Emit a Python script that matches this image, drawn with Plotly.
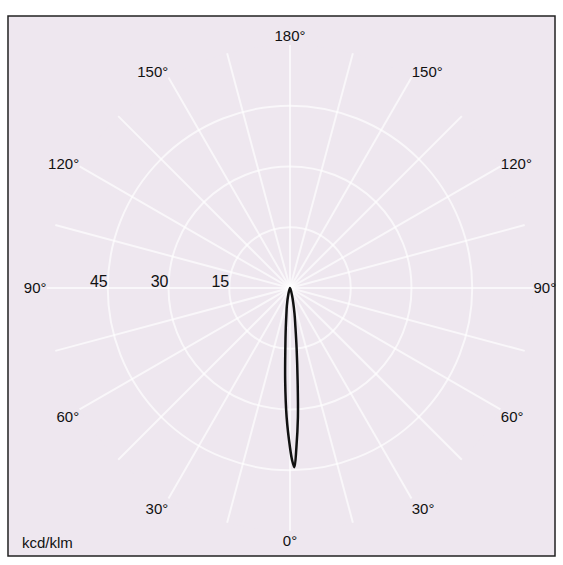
import plotly.graph_objects as go

# Luminous intensity distribution (cd/klm), gamma angle from nadir (deg)
gamma = [-30, -15, -10, -8, -6, -4.5, -3, -1.5, 0, 0.7, 1.4, 2.3, 3.5, 4.7, 6.3, 8, 10, 15, 30]
intensity = [0, 1.5, 4.5, 6.3, 10, 14.6, 22.8, 31.9, 39.4, 42.5, 44.3, 39.4, 32, 23, 14.8, 9.5, 6.4, 2, 0]

radial_ticks = [15, 30, 45, 60]
radial_text = ["15", "30", "45", ""]
angle_ticks = list(range(0, 360, 15))
angle_text = [(f"{a if a <= 180 else 360 - a}°" if a % 30 == 0 else "") for a in angle_ticks]
unit_label = "kcd/klm"

bg = "#eee7ef"
grid = "rgba(255,255,255,0.65)"
font_family = "Liberation Sans, Arial, sans-serif"

fig = go.Figure()
fig.add_trace(go.Scatterpolar(
    r=intensity, theta=gamma, mode="lines",
    line=dict(color="#111111", width=2.5, shape="spline"),
    showlegend=False, hoverinfo="skip"))

fig.update_layout(
    width=563, height=565,
    margin=dict(l=0, r=0, t=0, b=0),
    paper_bgcolor="white",
    font=dict(family=font_family, size=15, color="#111111"),
    polar=dict(
        domain=dict(x=[0.0835, 0.9467], y=[0.0602, 0.9204]),
        bgcolor=bg,
        radialaxis=dict(range=[0, 60], tickvals=radial_ticks, ticktext=radial_text,
                        showline=False, ticks="", gridcolor=grid, gridwidth=1.5,
                        angle=180, tickangle=180, side="clockwise",
                        tickfont=dict(size=16)),
        angularaxis=dict(rotation=-90, direction="counterclockwise",
                         tickvals=angle_ticks, ticktext=angle_text,
                         showline=False, ticks="", gridcolor=grid, gridwidth=1.5,
                         tickfont=dict(size=15)),
    ),
    shapes=[dict(type="rect", xref="paper", yref="paper",
                 x0=0.0142, x1=0.9858, y0=0.016, y1=0.9717,
                 fillcolor=bg, line=dict(color="#222222", width=1.5), layer="below")],
    annotations=[dict(text=unit_label, xref="paper", yref="paper", x=0.035, y=0.022,
                      xanchor="left", yanchor="bottom", showarrow=False,
                      font=dict(size=15))],
)

fig.write_html("out.html", config={"displayModeBar": False},
               post_script="document.body.style.margin='0px';")
